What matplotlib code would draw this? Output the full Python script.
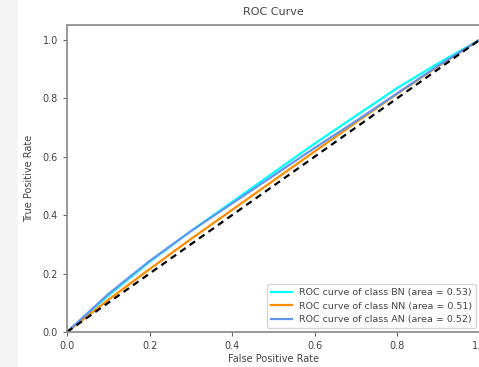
import matplotlib
matplotlib.use("Agg")
import matplotlib.pyplot as plt
from matplotlib.patches import Rectangle

fpr = [0.0, 0.1, 0.2, 0.3, 0.4, 0.5, 0.6, 0.7, 0.8, 0.9, 1.0]
tpr_bn = [0.0, 0.125, 0.24, 0.345, 0.445, 0.545, 0.645, 0.74, 0.835, 0.92, 1.0]
tpr_nn = [0.0, 0.11, 0.215, 0.318, 0.418, 0.518, 0.618, 0.717, 0.815, 0.91, 1.0]
tpr_an = [0.0, 0.13, 0.243, 0.345, 0.44, 0.535, 0.63, 0.722, 0.817, 0.912, 1.0]
class_names = ["BN", "NN", "AN"]
aucs = [0.53, 0.51, 0.52]
colors = ["aqua", "darkorange", "cornflowerblue"]
xticks = [0.0, 0.2, 0.4, 0.6, 0.8, 1.0]
yticks = [0.0, 0.2, 0.4, 0.6, 0.8, 1.0]

plt.rcParams['font.size'] = 7
plt.rcParams['text.color'] = '#444444'
plt.rcParams['xtick.color'] = '#666666'
plt.rcParams['ytick.color'] = '#666666'
plt.rcParams['xtick.labelcolor'] = '#444444'
plt.rcParams['ytick.labelcolor'] = '#444444'
plt.rcParams['axes.labelcolor'] = '#444444'

fig = plt.figure(figsize=(4.79, 3.67), dpi=100)
fig.patches.append(Rectangle((0, 0), 18/479, 1, transform=fig.transFigure,
                             facecolor='#f5f5f5', edgecolor='none', zorder=0))
ax = fig.add_axes([67/479, 1 - 332/367, 413/479, 307/367])

for tpr, name, auc, c in zip([tpr_bn, tpr_nn, tpr_an], class_names, aucs, colors):
    ax.plot(fpr, tpr, color=c, lw=1.6,
            label=f"ROC curve of class {name} (area = {auc:.2f})")
ax.plot([0, 1], [0, 1], 'k--', lw=1.6, dashes=(3, 2.2))

ax.set_xlim(0.0, 1.0)
ax.set_ylim(0.0, 1.05)
ax.set_xticks(xticks)
ax.set_yticks(yticks)
ax.tick_params(labelsize=7, length=3, width=0.8)
ax.set_xlabel("False Positive Rate", fontsize=7, labelpad=2)
ax.set_ylabel("True Positive Rate", fontsize=7, labelpad=6)
ax.set_title("ROC Curve", fontsize=8, pad=7)
for s in ax.spines.values():
    s.set_color('#888888')
    s.set_linewidth(1.2)
leg = ax.legend(loc="lower right", fontsize=6.8, frameon=True,
                handlelength=2.2, borderaxespad=0.4)
leg.get_frame().set_edgecolor('#cccccc')

fig.savefig("out.png", dpi=100)
